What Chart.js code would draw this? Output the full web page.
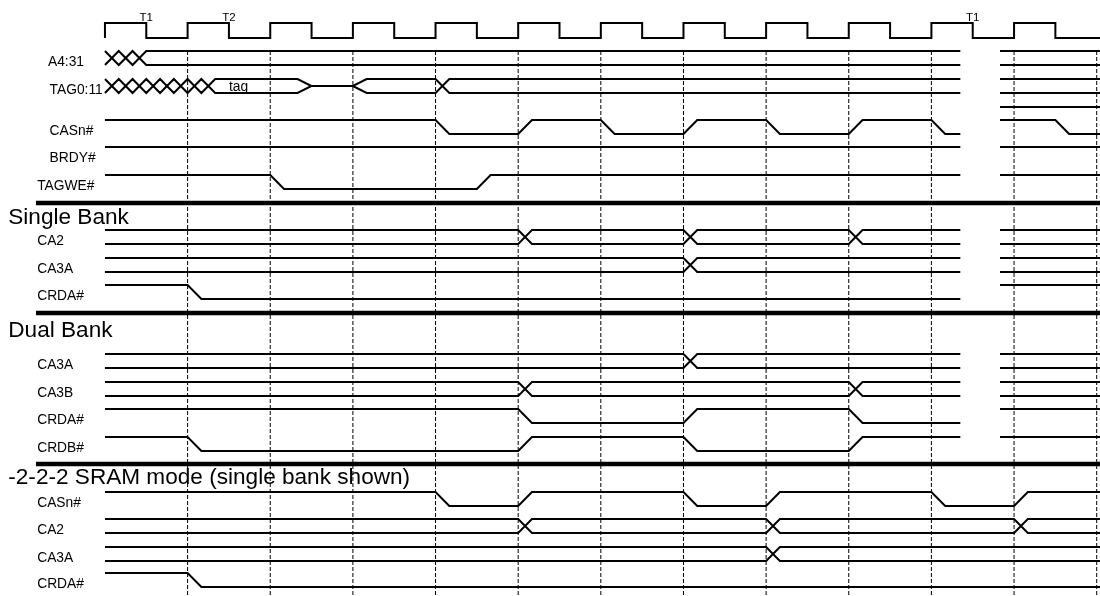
<!DOCTYPE html>
<html>
<head>
<meta charset="utf-8">
<script src="https://cdn.jsdelivr.net/npm/chart.js@4.4.1/dist/chart.umd.min.js"></script>
<style>
  html, body { margin: 0; padding: 0; background: #fff; }
  #wrap { width: 1100px; height: 596px; }
</style>
</head>
<body>
<div id="wrap"><canvas id="timing" width="1100" height="596"></canvas></div>
<script>
// time is counted in clock periods, t = 0 is the first rising edge
const clockEdges = [0, 0.5, 1, 1.5, 2, 2.5, 3, 3.5, 4, 4.5, 5, 5.5, 6, 6.5, 7, 7.5, 8, 8.5, 9, 9.5, 10, 10.5, 11, 11.5];
const guideTimes = [1, 2, 3, 4, 5, 6, 7, 8, 9, 10, 11, 12];
const phaseLabels = ['T1', 'T2', 'T1'];
const phaseTimes = [0.5, 1.5, 10.5];
const breakSpan = [10.35, 10.83];

// top group
const addrCross = [0, 0.167, 0.333];
const tagCross = [0, 0.167, 0.333, 0.5, 0.667, 0.833, 1, 1.167, 4];
const tagFloat = [2.33, 3];
const casEdges = [4, 5, 6, 7, 8, 9, 10];
const casEdgesAfter = [11.5];
const tagweEdges = [2, 4.5];

// single bank
const sbCa2Cross = [5, 7, 9];
const sbCa3aCross = [7];
const sbCrdaEdges = [1];

// dual bank
const dbCa3aCross = [7];
const dbCa3bCross = [5, 9];
const dbCrdaEdges = [5, 7, 9];
const dbCrdbEdges = [1, 5, 7, 9];

// -2-2-2 sram mode
const srCasEdges = [4, 5, 7, 8, 10, 11];
const srCa2Cross = [5, 8, 11];
const srCa3aCross = [8];
const srCrdaEdges = [1];

const sectionTitles = ['Single Bank', 'Dual Bank', '-2-2-2 SRAM mode (single bank shown)'];

const RAMP = 1 / 6;
const AMP = 14;
const END = 12.1;
const XMIN = -1.27, XMAX = 12.04;
const B0 = breakSpan[0], B1 = breakSpan[1];
const FONT = '"Liberation Sans", Arial, sans-serif';

const rows = [
    { name: 'A4:31',   top: 51,  lx: -0.69, bus: [[0, B0, addrCross], [B1, END, []]] },
    { name: 'TAG0:11', top: 79,  lx: -0.67, bus: [[0, B0, tagCross, tagFloat], [B1, END, []]], note: 'tag', noteX: 1.5 },
    { name: '',        top: 107, dig: [[B1, END, 1, []]] },
    { name: 'CASn#',   top: 120, lx: -0.67, dig: [[0, B0, 1, casEdges], [B1, END, 1, casEdgesAfter]] },
    { name: 'BRDY#',   top: 147, lx: -0.67, dig: [[0, B0, 1, []], [B1, END, 1, []]] },
    { name: 'TAGWE#',  top: 175, lx: -0.82, dig: [[0, B0, 1, tagweEdges], [B1, END, 1, []]] },
    { name: 'CA2',     top: 230, lx: -0.82, bus: [[0, B0, sbCa2Cross], [B1, END, []]] },
    { name: 'CA3A',    top: 258, lx: -0.82, bus: [[0, B0, sbCa3aCross], [B1, END, []]] },
    { name: 'CRDA#',   top: 285, lx: -0.82, dig: [[0, B0, 1, sbCrdaEdges], [B1, END, 1, []]] },
    { name: 'CA3A',    top: 354, lx: -0.82, bus: [[0, B0, dbCa3aCross], [B1, END, []]] },
    { name: 'CA3B',    top: 382, lx: -0.82, bus: [[0, B0, dbCa3bCross], [B1, END, []]] },
    { name: 'CRDA#',   top: 409, lx: -0.82, dig: [[0, B0, 1, dbCrdaEdges], [B1, END, 1, []]] },
    { name: 'CRDB#',   top: 437, lx: -0.82, dig: [[0, B0, 1, dbCrdbEdges], [B1, END, 1, []]] },
    { name: 'CASn#',   top: 492, lx: -0.82, dig: [[0, END, 1, srCasEdges]] },
    { name: 'CA2',     top: 519, lx: -0.82, bus: [[0, END, srCa2Cross]] },
    { name: 'CA3A',    top: 547, lx: -0.82, bus: [[0, END, srCa3aCross]] },
    { name: 'CRDA#',   top: 573, lx: -0.82, dig: [[0, END, 1, srCrdaEdges]] }
];

const separators = [203, 313, 464];
const titleBaselines = [224, 337, 484];

const lv = (top, v, amp) => top + (1 - v) * (amp || AMP);

// a single-bit wave: level toggles at each edge, with a short slope
function digitalPts(top, from, to, level, edges, ramp, amp) {
    let cur = level;
    const pts = [{ x: from, y: lv(top, cur, amp) }];
    edges.forEach(e => {
        pts.push({ x: e, y: lv(top, cur, amp) });
        cur = 1 - cur;
        pts.push({ x: e + ramp, y: lv(top, cur, amp) });
    });
    pts.push({ x: to, y: lv(top, cur, amp) });
    return pts;
}

// a bus: two lines that swap at each crossing and meet in the middle while floating
function busPts(top, from, to, cross, float, start) {
    let cur = start;
    const ev = cross.map(c => ({ t: c, k: 'x' }));
    if (float) ev.push({ t: float[0], k: 'z', e: float[1] });
    ev.sort((a, b) => a.t - b.t);
    const pts = [{ x: from, y: lv(top, cur) }];
    ev.forEach(o => {
        pts.push({ x: o.t, y: lv(top, cur) });
        if (o.k === 'x') {
            cur = 1 - cur;
            pts.push({ x: o.t + RAMP, y: lv(top, cur) });
        } else {
            pts.push({ x: o.t + RAMP, y: lv(top, 0.5) });
            pts.push({ x: o.e, y: lv(top, 0.5) });
            pts.push({ x: o.e + RAMP, y: lv(top, cur) });
        }
    });
    pts.push({ x: to, y: lv(top, cur) });
    return pts;
}

const wave = (data, width) => ({
    data, showLine: true, pointRadius: 0, borderColor: '#000',
    borderWidth: width || 2, fill: false, tension: 0
});

const datasets = [];

guideTimes.forEach(t => {
    datasets.push(Object.assign(wave([{ x: t, y: 51 }, { x: t, y: 600 }], 1), { borderDash: [4, 2] }));
});

datasets.push(wave(digitalPts(23, 0, END, 0, clockEdges, 0, 15)));

rows.forEach(r => {
    (r.dig || []).forEach(s => datasets.push(wave(digitalPts(r.top, s[0], s[1], s[2], s[3], RAMP))));
    (r.bus || []).forEach(s => {
        datasets.push(wave(busPts(r.top, s[0], s[1], s[2], s[3], 1)));
        datasets.push(wave(busPts(r.top, s[0], s[1], s[2], s[3], 0)));
    });
});

separators.forEach(y => datasets.push(wave([{ x: -0.835, y }, { x: END, y }], 4.5)));

const textPlugin = {
    id: 'timingText',
    afterDraw(chart) {
        const { ctx, scales: { x, y } } = chart;
        ctx.save();
        ctx.fillStyle = '#000';
        ctx.textBaseline = 'alphabetic';

        ctx.font = '11.5px ' + FONT;
        ctx.textAlign = 'center';
        phaseLabels.forEach((s, i) => ctx.fillText(s, x.getPixelForValue(phaseTimes[i]), y.getPixelForValue(21)));

        ctx.font = '13.8px ' + FONT;
        ctx.textAlign = 'left';
        rows.forEach(r => {
            if (r.name) ctx.fillText(r.name, x.getPixelForValue(r.lx), y.getPixelForValue(r.top + 15));
            if (r.note) ctx.fillText(r.note, x.getPixelForValue(r.noteX), y.getPixelForValue(r.top + 12));
        });

        ctx.font = '22.6px ' + FONT;
        sectionTitles.forEach((s, i) => ctx.fillText(s, x.getPixelForValue(-1.17), y.getPixelForValue(titleBaselines[i])));
        ctx.restore();
    }
};

new Chart(document.getElementById('timing'), {
    type: 'scatter',
    data: { datasets },
    options: {
        responsive: false,
        animation: false,
        devicePixelRatio: 1,
        layout: { padding: 0 },
        plugins: { legend: { display: false }, tooltip: { enabled: false } },
        scales: {
            x: { type: 'linear', min: XMIN, max: XMAX, display: false },
            y: { type: 'linear', min: 0, max: 596, reverse: true, display: false }
        }
    },
    plugins: [textPlugin]
});
</script>
</body>
</html>
